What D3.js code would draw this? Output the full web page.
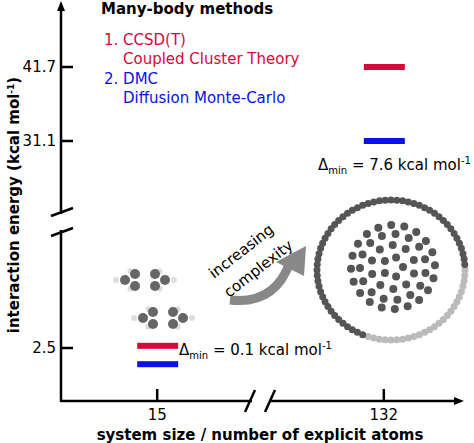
<!DOCTYPE html><html><head><meta charset="utf-8">
<script src="https://cdn.jsdelivr.net/npm/d3@7"></script>
<style>body{margin:0;background:#fff}svg{font-family:"DejaVu Sans",sans-serif}</style></head><body>
<script>
const systems=["15","132"];
const yTicks=[2.5,31.1,41.7];
const ccsdt=[2.8,41.7];
const dmc=[1.6,31.1];
const deltas=["0.1","7.6"];
const W=474,H=443;
const svg=d3.select("body").append("svg").attr("width",W).attr("height",H);
const x=d3.scalePoint().domain(systems).range([62,479]).padding(0.42);
const y=d3.scaleLinear().domain([0,2.5,31.1,41.7]).range([393,348,141,67]);
const ax=61, ay=401;
const g=svg.append("g");
g.append("line").attr("x1",ax).attr("x2",ax).attr("y1",ay+1).attr("y2",8).attr("stroke","#000").attr("stroke-width",2.5);
g.append("path").attr("d",`M${ax},1 L${ax-4},11 L${ax+4},11Z`);
g.append("rect").attr("x",ax-4).attr("y",214).attr("width",8).attr("height",16).attr("fill","#fff");
[212,232].forEach(v=>g.append("line").attr("x1",ax-10).attr("x2",ax+12).attr("y1",v+4).attr("y2",v-4).attr("stroke","#000").attr("stroke-width",2.5));
g.append("line").attr("x1",ax).attr("x2",459).attr("y1",ay).attr("y2",ay).attr("stroke","#000").attr("stroke-width",2.5);
g.append("path").attr("d",`M464,${ay} L454,${ay-4} L454,${ay+4}Z`);
g.append("rect").attr("x",252).attr("y",ay-4).attr("width",17).attr("height",8).attr("fill","#fff");
[250,270].forEach(v=>g.append("line").attr("x1",v-5).attr("x2",v+5).attr("y1",ay+11).attr("y2",ay-11).attr("stroke","#000").attr("stroke-width",2.5));
yTicks.forEach(t=>{g.append("line").attr("x1",ax).attr("x2",ax+12).attr("y1",y(t)).attr("y2",y(t)).attr("stroke","#000").attr("stroke-width",2.5);
 g.append("text").attr("x",ax-5).attr("y",y(t)+5).attr("text-anchor","end").attr("font-size",15).text(t);});
systems.forEach(s=>{g.append("line").attr("x1",x(s)).attr("x2",x(s)).attr("y1",ay).attr("y2",ay-12).attr("stroke","#000").attr("stroke-width",2.5);
 g.append("text").attr("x",x(s)).attr("y",ay+19).attr("text-anchor","middle").attr("font-size",15).text(s);});
g.append("text").attr("x",260).attr("y",440).attr("text-anchor","middle").attr("font-size",15).attr("font-weight","bold").text("system size / number of explicit atoms");
const yl=g.append("text").attr("transform","translate(19,205) rotate(-90)").attr("text-anchor","middle").attr("font-size",15).attr("font-weight","bold");
yl.append("tspan").text("interaction energy (kcal mol");yl.append("tspan").attr("font-size",9).attr("dy",-5).text("-1");yl.append("tspan").attr("dy",5).text(")");
systems.forEach((s,i)=>{
 g.append("rect").attr("x",x(s)-20).attr("width",41).attr("y",y(ccsdt[i])-3).attr("height",6).attr("fill","#d7083a");
 g.append("rect").attr("x",x(s)-20).attr("width",41).attr("y",y(dmc[i])-3).attr("height",6).attr("fill","#0a12e6");
});
function delta(px,py,v){const t=g.append("text").attr("x",px).attr("y",py).attr("font-size",15);
 t.append("tspan").text("Δ");t.append("tspan").attr("font-size",10).attr("dy",4).text("min");
 t.append("tspan").attr("dy",-4).text(` = ${v} kcal mol`);t.append("tspan").attr("font-size",10).attr("dy",-6).text("-1");}
delta(179,355,deltas[0]);delta(318,170,deltas[1]);
g.append("text").attr("x",101).attr("y",14).attr("font-size",15).attr("font-weight","bold").text("Many-body methods");
[["1. CCSD(T)",104,45,"#d7083a"],["Coupled Cluster Theory",123,64,"#d7083a"],["2. DMC",104,84,"#0a12e6"],["Diffusion Monte-Carlo",123,103,"#0a12e6"]]
.forEach(d=>g.append("text").attr("x",d[1]).attr("y",d[2]).attr("font-size",15).attr("fill",d[3]).text(d[0]));
g.append("path").attr("d","M230,300 Q275,305 290,262").attr("fill","none").attr("stroke","#888").attr("stroke-width",9);
g.append("path").attr("d","M276,262 L306,246 L304,276Z").attr("fill","#888");
g.append("text").attr("transform","translate(214,279) rotate(-38)").attr("font-size",15).text("increasing");
g.append("text").attr("transform","translate(229,298) rotate(-38)").attr("font-size",15).text("complexity");
function ring(cx,cy){for(let k=0;k<6;k++){const a=k*Math.PI/3;const px=cx+20*Math.cos(a),py=cy+7*Math.sin(a);
 g.append("circle").attr("cx",cx+29*Math.cos(a)).attr("cy",cy+10*Math.sin(a)).attr("r",3).attr("fill","#ddd");
 g.append("circle").attr("cx",px).attr("cy",py).attr("r",5).attr("fill","#666");}}
ring(145,280);ring(163,318);
const nr=g.append("g");
for(let k=0;k<80;k++){const a=k*2*Math.PI/80;const c=(a>-0.2&&a<1.9)?"#bbb":"#555";
 nr.append("circle").attr("cx",391+74*Math.cos(a)).attr("cy",270+70*Math.sin(a)).attr("r",3.5).attr("fill",c);}
for(let r=0;r<4;r++){const R=[10,22,33,42][r],n=[5,10,15,20][r];
 for(let k=0;k<n;k++){const a=k*2*Math.PI/n+r*0.3;nr.append("circle").attr("cx",393+R*Math.cos(a)).attr("cy",267+R*Math.sin(a)).attr("r",4).attr("fill","#555");}}
</script></body></html>
